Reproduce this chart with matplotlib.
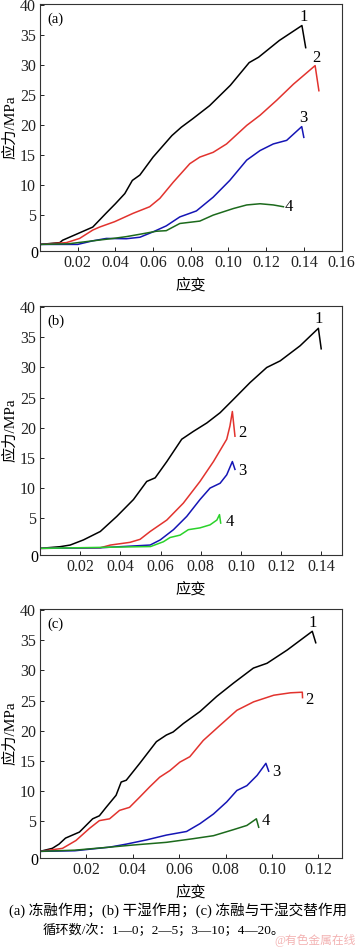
import matplotlib
matplotlib.use("Agg")
import matplotlib.pyplot as plt

plt.rcParams['font.family'] = ['Liberation Serif', 'Noto Sans CJK SC', 'DejaVu Sans']

# ---- panel (a): freeze-thaw ----
a1_x = [0, 0.0105, 0.012, 0.02, 0.028, 0.035, 0.04, 0.045, 0.049, 0.053, 0.06, 0.07, 0.075, 0.081,
        0.09, 0.101, 0.111, 0.116, 0.127, 0.139, 0.141]
a1_y = [0, 0.3, 0.7, 1.8, 2.9, 5.2, 6.8, 8.5, 10.7, 11.6, 14.6, 18.2, 19.6, 21.0,
        23.2, 26.6, 30.4, 31.3, 34.1, 36.6, 32.9]
a2_x = [0, 0.014, 0.021, 0.028, 0.0316, 0.0396, 0.0494, 0.0582, 0.0636, 0.0707, 0.0795, 0.0848,
        0.0919, 0.099, 0.1097, 0.1168, 0.1256, 0.1345, 0.146, 0.148]
a2_y = [0, 0.3, 1.0, 2.4, 2.9, 3.8, 5.2, 6.3, 7.7, 10.4, 13.5, 14.6,
        15.4, 16.8, 19.9, 21.6, 24.1, 26.8, 29.9, 25.7]
a3_x = [0, 0.02, 0.028, 0.0352, 0.0458, 0.053, 0.060, 0.067, 0.0742, 0.0795, 0.083, 0.0919,
        0.1007, 0.1097, 0.1168, 0.1238, 0.1309, 0.1389, 0.140]
a3_y = [0, 0.0, 0.6, 1.0, 0.95, 1.2, 2.1, 3.1, 4.6, 5.2, 5.6, 7.9,
        10.7, 14.1, 15.7, 16.8, 17.4, 19.7, 17.9]
a4_x = [0, 0.015, 0.028, 0.0388, 0.0458, 0.053, 0.0617, 0.067, 0.0742, 0.0848, 0.0919, 0.1026,
        0.1097, 0.1168, 0.1238, 0.1292]
a4_y = [0, 0.1, 0.6, 1.0, 1.3, 1.7, 2.2, 2.3, 3.5, 3.9, 4.9, 6.0,
        6.6, 6.8, 6.6, 6.3]

# ---- panel (b): dry-wet ----
b1_x = [0, 0.010, 0.015, 0.0216, 0.030, 0.0382, 0.0465, 0.0531, 0.0573, 0.0631, 0.0705, 0.0763,
        0.083, 0.0896, 0.0962, 0.1045, 0.1128, 0.1195, 0.1294, 0.1385, 0.1399]
b1_y = [0, 0.28, 0.55, 1.4, 2.8, 5.3, 8.1, 11.1, 11.7, 14.4, 18.1, 19.4,
        20.8, 22.5, 24.7, 27.5, 30.0, 31.1, 33.6, 36.5, 33.1]
b2_x = [0, 0.030, 0.035, 0.0448, 0.0498, 0.0548, 0.0631, 0.0713, 0.0796, 0.0863, 0.0929, 0.0945,
        0.0957, 0.097]
b2_y = [0, 0.1, 0.55, 1.0, 1.5, 2.8, 4.7, 7.5, 11.1, 14.4, 18.1, 20.3, 22.7, 18.6]
b3_x = [0, 0.030, 0.0465, 0.0548, 0.0598, 0.0664, 0.073, 0.0796, 0.0846, 0.0896, 0.0929, 0.0957,
        0.097]
b3_y = [0, 0.1, 0.4, 0.55, 1.4, 3.1, 5.3, 8.1, 10.0, 10.8, 12.2, 14.4, 13.1]
b4_x = [0, 0.055, 0.0614, 0.0647, 0.0697, 0.0738, 0.0796, 0.0846, 0.088, 0.0893, 0.0899]
b4_y = [0, 0.3, 1.1, 1.8, 2.2, 3.1, 3.4, 3.9, 4.7, 5.6, 4.2]

# ---- panel (c): alternating ----
c1_x = [0, 0.0053, 0.0082, 0.011, 0.017, 0.0227, 0.0256, 0.0285, 0.0328, 0.035, 0.0372, 0.043,
        0.0502, 0.0545, 0.0574, 0.0618, 0.069, 0.0762, 0.0834, 0.092, 0.0979, 0.1066, 0.1174, 0.1189]
c1_y = [0, 0.5, 1.2, 2.2, 3.2, 5.4, 5.9, 7.3, 9.3, 11.5, 11.8, 14.6,
        18.2, 19.3, 19.8, 21.2, 23.2, 25.7, 27.9, 30.4, 31.2, 33.4, 36.5, 34.6]
c2_x = [0, 0.0097, 0.0155, 0.0213, 0.0256, 0.030, 0.0343, 0.0386, 0.043, 0.0473, 0.0516, 0.056,
        0.0603, 0.0646, 0.0704, 0.0776, 0.0849, 0.0921, 0.1008, 0.108, 0.1131, 0.1132]
c2_y = [0, 0.5, 1.8, 3.8, 5.1, 5.4, 6.8, 7.3, 9.0, 10.7, 12.3, 13.4,
        14.8, 15.7, 18.4, 20.9, 23.4, 24.8, 25.9, 26.3, 26.4, 25.5]
c3_x = [0, 0.015, 0.030, 0.0372, 0.0459, 0.0545, 0.0632, 0.069, 0.0748, 0.0805, 0.0849, 0.0892,
        0.0936, 0.0974, 0.0986]
c3_y = [0, 0.1, 0.7, 1.2, 1.9, 2.7, 3.3, 4.6, 6.2, 8.2, 10.1, 10.9, 12.6, 14.6, 13.3]
c4_x = [0, 0.015, 0.030, 0.0401, 0.0545, 0.066, 0.0748, 0.0834, 0.0892, 0.0933, 0.0943]
c4_y = [0, 0.2, 0.7, 1.05, 1.5, 2.1, 2.6, 3.6, 4.3, 5.4, 4.0]

panel_tags = ['(a)', '(b)', '(c)']
x_max = [0.16, 0.15, 0.13]
x_ticks = [[0.02, 0.04, 0.06, 0.08, 0.10, 0.12, 0.14, 0.16],
           [0.02, 0.04, 0.06, 0.08, 0.10, 0.12, 0.14],
           [0.02, 0.04, 0.06, 0.08, 0.10, 0.12]]
y_ticks = [5, 10, 15, 20, 25, 30, 35, 40]
curve_names = ['1', '2', '3', '4']
# label anchor points (strain, stress) for curve numbers
label_pos = [
    [(0.140, 38.0), (0.1465, 31.2), (0.1396, 21.2), (0.132, 6.2)],
    [(0.1385, 38.1), (0.1007, 19.2), (0.1007, 12.8), (0.0942, 4.3)],
    [(0.1174, 37.9), (0.116, 25.1), (0.102, 13.2), (0.0972, 5.1)],
]
caption1 = '(a) 冻融作用；(b) 干湿作用；(c) 冻融与干湿交替作用'
caption2 = '循环数/次：1—0；2—5；3—10；4—20。'

data = [
    [(a1_x, a1_y), (a2_x, a2_y), (a3_x, a3_y), (a4_x, a4_y)],
    [(b1_x, b1_y), (b2_x, b2_y), (b3_x, b3_y), (b4_x, b4_y)],
    [(c1_x, c1_y), (c2_x, c2_y), (c3_x, c3_y), (c4_x, c4_y)],
]
colors = [
    ['black', '#e2332e', '#1515b5', '#1c6a1c'],
    ['black', '#e2332e', '#1515b5', '#2ad22a'],
    ['black', '#e2332e', '#1515b5', '#1c6a1c'],
]

fig = plt.figure(figsize=(3.56, 9.47), dpi=100)
rects = [
    [40 / 356, 1 - 251 / 947, 301.5 / 356, 247 / 947],
    [40 / 356, 1 - 555 / 947, 301.5 / 356, 249 / 947],
    [40 / 356, 1 - 858 / 947, 301.5 / 356, 249 / 947],
]

for i in range(3):
    ax = fig.add_axes(rects[i])
    for k, (xs, ys) in enumerate(data[i]):
        ax.plot(xs, ys, color=colors[i][k], lw=1.1)
        lx, ly = label_pos[i][k]
        ax.text(lx, ly, curve_names[k], fontsize=12, ha='center', va='center')
    ax.set_xlim(0, x_max[i])
    ax.set_ylim(-1.1, 40.2)
    ax.set_xticks(x_ticks[i])
    ax.set_xticklabels(['%.2f' % t for t in x_ticks[i]])
    ax.set_yticks(y_ticks)
    ax.set_yticklabels([str(t) for t in y_ticks])
    ax.tick_params(direction='in', length=3, width=0.7, labelsize=11.5, pad=3, colors='#222222')
    for s in ax.spines.values():
        s.set_color('#333333')
        s.set_linewidth(0.8)
    ax.annotate('0', xy=(0, 0), xycoords='axes fraction', xytext=(-2, -3),
                textcoords='offset pixels', ha='right', va='center', fontsize=11.5)
    ax.text(0.025, 0.965, panel_tags[i], transform=ax.transAxes, fontsize=10.5,
            ha='left', va='top')
    ax.set_xlabel('应变', fontsize=11, labelpad=5)
    ax.set_ylabel('应力/MPa', fontsize=11, labelpad=2)

fig.text(0.5, 1 - 910 / 947, caption1, ha='center', va='center', fontsize=10.5)
fig.text(0.46, 1 - 931 / 947, caption2, ha='center', va='center', fontsize=9.5)
fig.text(0.998, 1 - 940 / 947, '@有色金属在线', ha='right', va='center', fontsize=8.5,
         color='#f0a0a0', alpha=0.8)

fig.savefig('out.png', dpi=100)
